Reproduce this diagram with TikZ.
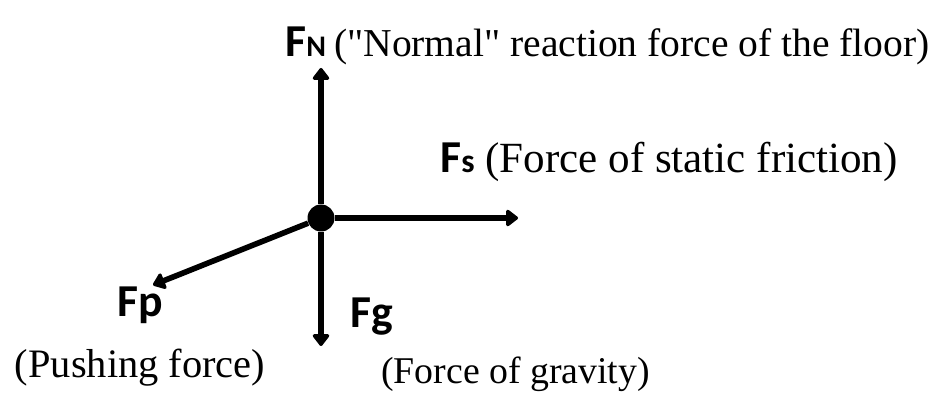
\documentclass[tikz,border=0pt]{standalone}
\usepackage{fontspec}
\setmainfont{Liberation Serif}
\newfontfamily\forcefont{Carlito}
\usetikzlibrary{arrows.meta,positioning}

\begin{document}
\begin{tikzpicture}[
    node distance=0.15cm,
    force/.style={line width=3.2pt, -{Triangle[length=2.6mm, width=3.8mm, round]}},
    flabel/.style={inner sep=0pt, font=\forcefont\bfseries\fontsize{26}{30}\selectfont},
    desc/.style={inner sep=0pt, font=\fontsize{23}{28}\selectfont}
  ]
    \useasboundingbox (0,0) rectangle (18.84,8.02);

    \node[circle, fill, minimum size=5.4mm, inner sep=0pt] (body) at (6.42,3.66) {};
    \coordinate (up) at (6.42,6.66);
    \coordinate (right) at (10.36,3.66);
    \coordinate (down) at (6.42,1.10);
    \coordinate (push) at (3.06,2.32);

    \draw[force] (body) -- (up);
    \draw[force] (body) -- (right);
    \draw[force] (body) -- (down);
    \draw[force] (body) -- (push);

    \node[flabel, anchor=base west] (fn) at (5.70,6.88) {F{\fontsize{17}{20}\selectfont N}};
    \node[desc, font=\fontsize{22.5}{28}\selectfont, right=of fn.base east, anchor=base west] (fndesc)
      {(\textquotedbl Normal\textquotedbl{} reaction force of the floor)};

    \node[flabel, anchor=base west] (fs) at (8.80,4.56) {F{\fontsize{19}{22}\selectfont s}};
    \node[desc, font=\fontsize{24.5}{28}\selectfont, right=0.2cm of fs.base east, anchor=base west] (fsdesc)
      {(Force of static friction)};

    \node[flabel, anchor=base west] (fp) at (2.34,1.70) {Fp};
    \node[desc, below=0.5cm of fp] (fpdesc) {(Pushing force)};

    \node[flabel, anchor=base west] (fg) at (7.00,1.48) {Fg};
    \node[desc, font=\fontsize{21.5}{28}\selectfont, anchor=base west] (fgdesc) at (7.62,0.36)
      {(Force of gravity)};
  \end{tikzpicture}
\end{document}
